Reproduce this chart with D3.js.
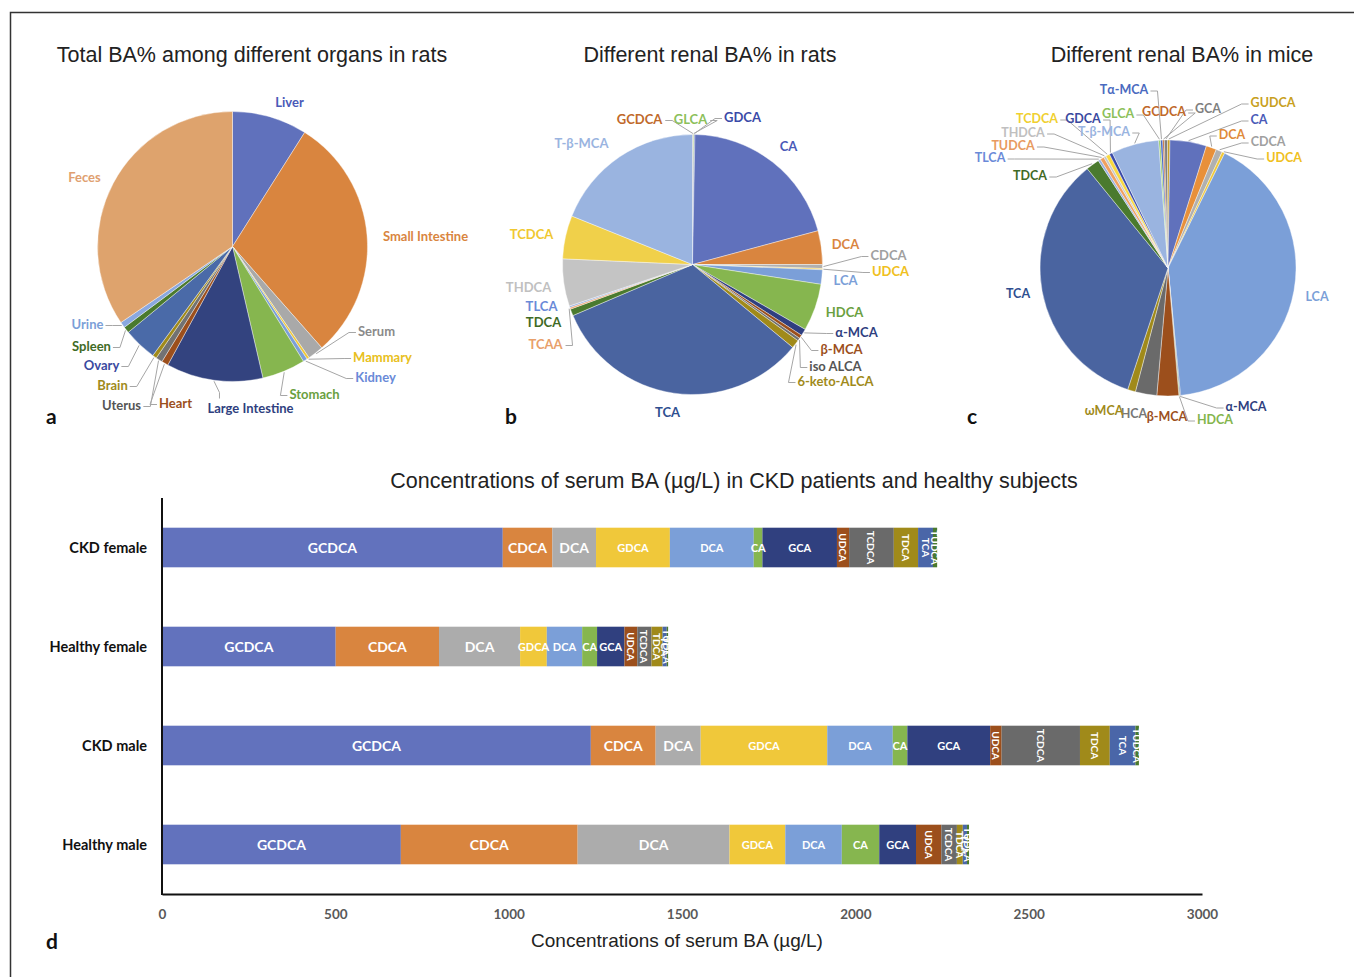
<!DOCTYPE html>
<html><head><meta charset="utf-8">
<script src="https://cdn.jsdelivr.net/npm/d3@7"></script>
<style>
body{margin:0;background:#fff;}
svg{display:block;}
</style></head>
<body>
<svg id="chart" width="1354" height="977"></svg>
<script>
// ---------- DATA ----------
const pieATitle = "Total BA% among different organs in rats";
const pieALabels = ["Liver","Small Intestine","Serum","Mammary","Kidney","Stomach","Large Intestine","Heart","Uterus","Brain","Ovary","Spleen","Urine","Feces"];
const pieAValues = [9.0,29.6,1.9,0.3,0.5,5.2,11.6,0.8,0.8,0.5,4.0,0.75,0.7,34.6];

const pieBTitle = "Different renal BA% in rats";
const pieBLabels = ["GCDCA","GLCA","GDCA","CA","DCA","CDCA","UDCA","LCA","HDCA","α-MCA","β-MCA","iso ALCA","6-keto-ALCA","TCA","TDCA","TCAA","TLCA","THDCA","TCDCA","T-β-MCA"];
const pieBValues = [0.1,0.1,0.1,20.6,4.2,0.5,0.15,1.8,5.9,0.85,0.45,0.35,1.05,32.7,0.85,0.2,0.2,5.9,5.4,19.0];

const pieCTitle = "Different renal BA% in mice";
const pieCLabels = ["Tα-MCA","GCDCA","GCA","GUDCA","CA","DCA","CDCA","UDCA","LCA","α-MCA","HDCA","β-MCA","HCA","ωMCA","TCA","TDCA","TLCA","TUDCA","THDCA","TCDCA","GDCA","T-β-MCA","GLCA"];
const pieCValues = [0.3,0.2,0.4,0.3,4.6,1.3,0.8,0.35,41.1,0.1,0.1,2.75,2.7,1.0,34.0,1.7,0.3,0.5,0.3,0.5,0.4,6.0,0.2];

const barTitle = "Concentrations of serum BA (µg/L) in CKD patients and healthy subjects";
const barAxisTitle = "Concentrations of serum BA (µg/L)";
const barCategories = ["CKD female","Healthy female","CKD male","Healthy male"];
const barSeriesLabels = ["GCDCA","CDCA","DCA","GDCA","DCA","CA","GCA","UDCA","TCDCA","TDCA","TCA","TUDCA"];
const barCKDfemale = [983,143,126,213,242,25,215,35,129,70,43,12];
const barHealthyFemale = [501,298,234,77,102,43,79,37,41,32,12,4];
const barCKDmale = [1237,187,130,365,189,42,239,33,226,86,74,10];
const barHealthyMale = [689,510,438,161,163,108,106,73,45,17,12,6];
const barTicks = [0,500,1000,1500,2000,2500,3000];

// ---------- STYLES ----------
const pieAColors = ["#6071bc","#d9853f","#a9a9a9","#f0c838","#7b9fd8","#86b64f","#33437f","#9c4f1c","#727272","#a08a1a","#4a6aa8","#4a7a2e","#8aa8e0","#dea36d"];
const pieATextColors = ["#4a5ab8","#d9853f","#8a8a8a","#e8c020","#6a8ad8","#6aa040","#2f3f80","#9c4f1c","#555555","#a08a1a","#3a4aa0","#3f6a25","#7b9fd8","#e0a070"];
const pieBColors = ["#c0692a","#90c860","#3a4aa8","#6071bc","#d9853f","#b0b0b0","#f0c838","#7b9fd8","#86b64f","#2f3f80","#9c4f1c","#707070","#a08a1a","#4a64a0","#4a7a2e","#e8a06a","#9ab0e0","#c4c4c4","#f0d04a","#9ab4e0"];
const pieBTextColors = ["#c0692a","#8cc05a","#3a4aa8","#4a5ab8","#d9853f","#a0a0a0","#f0c020","#7b9fd8","#6aa040","#2f3f80","#9c4f1c","#555555","#a08a1a","#2f4f90","#3f6a25","#e8a06a","#6a8ad8","#c0c0c0","#f0c830","#9ab4e0"];
const pieCColors = ["#4a6ac8","#c0692a","#808080","#c8a020","#6071bc","#e8903a","#b0b0b0","#f0c838","#7b9fd8","#2f3f80","#86b64f","#9c4f1c","#6a6a6a","#a08a1a","#4a64a0","#4a7a2e","#9ab0e0","#f0a060","#c8c8c8","#f8d840","#3a4aa8","#9ab4e0","#90c860"];
const pieCTextColors = ["#4a6ac0","#c0692a","#7f7f7f","#c8a020","#4a5ab8","#e08a3a","#a0a0a0","#f0c020","#7b9fd8","#2f3f80","#84b54d","#9c4f1c","#777777","#a08a1a","#2f4f90","#3f6a25","#6a8ad8","#e89a60","#c0c0c0","#f0d030","#3a4aa0","#9ab4e0","#8cc05a"];
const barColors = ["#6272bd","#d9853f","#acacac","#f0c83a","#7b9fd8","#86b64f","#30407f","#9c4f1c","#6a6a6a","#a08a1a","#4a66a8","#4a7a2e"];
const barLabelSizes = [14,14,14,11,11,11,11,10,10,10,10,10];

// ---------- LAYOUT (label placement: dx, dy from pie centre, leader side) ----------
const pieALayout = {cx:232.5, cy:246.5, r:135, start:0, fs:13,
  labels:[[57,-145,null],[193,-11,null],[144,84,"l"],[150,110,"l"],[143,130,"l"],[82,147,"l"],[18,161,"t"],[-57,156,"l"],[-111,158,"r"],[-120,138,"r"],[-131,118,"r"],[-141,99,"r"],[-145,77,"r"],[-148,-70,null]]};
const pieBLayout = {cx:692.5, cy:264.5, r:130, start:0, fs:13,
  labels:[[-53,-146,"r"],[-2,-146,"r"],[50,-148,"l"],[96,-119,null],[153,-21,null],[196,-10,"l"],[198,6,"l"],[153,15,null],[152,47,null],[164,67,"l"],[149,84,"l"],[143,101,"l"],[143,116,"l"],[-25,147,null],[-149,57,null],[-147,79,"r"],[-151,41,null],[-164,22,null],[-161,-31,null],[-111,-122,null]]};
const pieCLayout = {cx:1168, cy:268, r:128, start:-0.06, fs:12.5,
  labels:[[-44,-179,"r"],[-4,-157,"r"],[40,-160,"l"],[105,-166,"l"],[91,-149,"l"],[64,-134,"l"],[100,-127,"l"],[116,-111,"l"],[149,28,null],[78,138,"l"],[47,151,"l"],[-1,148,null],[-34,145,null],[-64,142,null],[-150,25,null],[-138,-93,"r"],[-178,-111,"r"],[-155,-123,"r"],[-145,-136,"r"],[-131,-150,"r"],[-85,-150,"r"],[-64,-137,"r"],[-50,-155,"r"]]};

const svg = d3.select("#chart");
const labelFont = "Lato, 'Open Sans', sans-serif";
const titleFont = "'Liberation Sans', Arial, sans-serif";

// frame
svg.append("path").attr("d","M10.5,977 L10.5,12.5 L1354,12.5").attr("fill","none").attr("stroke","#333").attr("stroke-width",1.5);

function drawPie(title, titleX, names, values, colors, textColors, layout, letter, letterX){
  const g = svg.append("g");
  g.append("text").attr("x",titleX).attr("y",62).attr("text-anchor","middle")
    .attr("font-family",titleFont).attr("font-size",21.5).attr("fill","#222").text(title);
  const data = names.map((n,i)=>({name:n, value:values[i], i:i}));
  const pie = d3.pie().sort(null).value(d=>d.value).startAngle(layout.start).endAngle(layout.start+2*Math.PI);
  const arcs = pie(data);
  const arc = d3.arc().innerRadius(0).outerRadius(layout.r);
  const pg = g.append("g").attr("transform",`translate(${layout.cx},${layout.cy})`);
  pg.selectAll("path").data(arcs).join("path").attr("d",arc)
    .attr("fill",d=>colors[d.data.i]).attr("stroke","#fff").attr("stroke-width",0.4);
  const lg = pg.append("g");
  arcs.forEach((d,k)=>{
    const L = layout.labels[k];
    const t = lg.append("text").attr("x",L[0]).attr("y",L[1]).attr("text-anchor","middle")
      .attr("dominant-baseline","central").attr("font-family",labelFont).attr("font-weight",700)
      .attr("font-size",layout.fs).attr("fill",textColors[d.data.i]).text(d.data.name);
    if(L[2]){
      const bb = t.node().getBBox();
      const mid = (d.startAngle+d.endAngle)/2;
      const px = (layout.r+1)*Math.sin(mid), py = -(layout.r+1)*Math.cos(mid);
      let ax, ay, ex, ey;
      if(L[2]==="l"){ax=bb.x-2; ay=L[1]+2; ex=ax-7; ey=ay;}
      else if(L[2]==="r"){ax=bb.x+bb.width+2; ay=L[1]+2; ex=ax+7; ey=ay;}
      else {ax=bb.x+12; ay=bb.y-1; ex=ax; ey=ay-6;}
      lg.insert("polyline","text").attr("points",`${px},${py} ${ex},${ey} ${ax},${ay}`)
        .attr("fill","none").attr("stroke","#a6a6a6").attr("stroke-width",1);
    }
  });
  svg.append("text").attr("x",letterX).attr("y",424).attr("font-family",labelFont)
    .attr("font-weight",700).attr("font-size",21).attr("fill","#111").text(letter);
}

drawPie(pieATitle, 252, pieALabels, pieAValues, pieAColors, pieATextColors, pieALayout, "a", 46);
drawPie(pieBTitle, 710, pieBLabels, pieBValues, pieBColors, pieBTextColors, pieBLayout, "b", 505);
drawPie(pieCTitle, 1182, pieCLabels, pieCValues, pieCColors, pieCTextColors, pieCLayout, "c", 967);

// ---------- BAR CHART ----------
const rows = [barCKDfemale, barHealthyFemale, barCKDmale, barHealthyMale];
const x = d3.scaleLinear().domain([0,3000]).range([162,1202]);
const y = d3.scaleBand().domain(barCategories).range([498,894]).paddingInner(0.6).paddingOuter(0.3);

svg.append("text").attr("x",734).attr("y",488).attr("text-anchor","middle")
  .attr("font-family",titleFont).attr("font-size",21.5).attr("fill","#222").text(barTitle);

const bg = svg.append("g");
rows.forEach((vals,ri)=>{
  const cat = barCategories[ri];
  let cum = 0;
  const segs = vals.map((v,si)=>{const s={cat, si, x0:cum, x1:cum+v}; cum+=v; return s;});
  const rg = bg.append("g");
  rg.selectAll("rect").data(segs).join("rect")
    .attr("x",d=>x(d.x0)).attr("width",d=>x(d.x1)-x(d.x0))
    .attr("y",y(cat)).attr("height",y.bandwidth())
    .attr("fill",d=>barColors[d.si]);
  const yc = y(cat)+y.bandwidth()/2;
  segs.forEach(d=>{
    const xc = (x(d.x0)+x(d.x1))/2;
    const t = rg.append("text").attr("font-family",labelFont).attr("font-weight",700)
      .attr("font-size",barLabelSizes[d.si]).attr("fill","#fff")
      .attr("text-anchor","middle").attr("dominant-baseline","central").text(barSeriesLabels[d.si]);
    if(d.si>=7){ t.attr("transform",`translate(${xc},${yc}) rotate(90)`); }
    else { t.attr("x",xc).attr("y",yc); }
  });
});

// category labels
svg.append("g").selectAll("text").data(barCategories).join("text")
  .attr("x",147).attr("y",d=>y(d)+y.bandwidth()/2).attr("text-anchor","end").attr("dominant-baseline","central")
  .attr("font-family",labelFont).attr("font-weight",700).attr("font-size",14.5).attr("fill","#111").text(d=>d);

// axes
const xAxis = svg.append("g").attr("transform","translate(0,894)")
  .call(d3.axisBottom(x).tickValues(barTicks).tickSize(0).tickPadding(15).tickFormat(d3.format("d")));
xAxis.select(".domain").attr("stroke","#111").attr("stroke-width",2);
xAxis.selectAll("text").attr("font-family",labelFont).attr("font-weight",700).attr("font-size",13.5).attr("fill","#595959");
svg.append("line").attr("x1",162).attr("x2",162).attr("y1",498).attr("y2",895).attr("stroke","#111").attr("stroke-width",2);

svg.append("text").attr("x",677).attr("y",947).attr("text-anchor","middle")
  .attr("font-family",titleFont).attr("font-size",19).attr("fill","#222").text(barAxisTitle);
svg.append("text").attr("x",46).attr("y",949).attr("font-family",labelFont)
  .attr("font-weight",700).attr("font-size",21).attr("fill","#111").text("d");
</script>
</body></html>
